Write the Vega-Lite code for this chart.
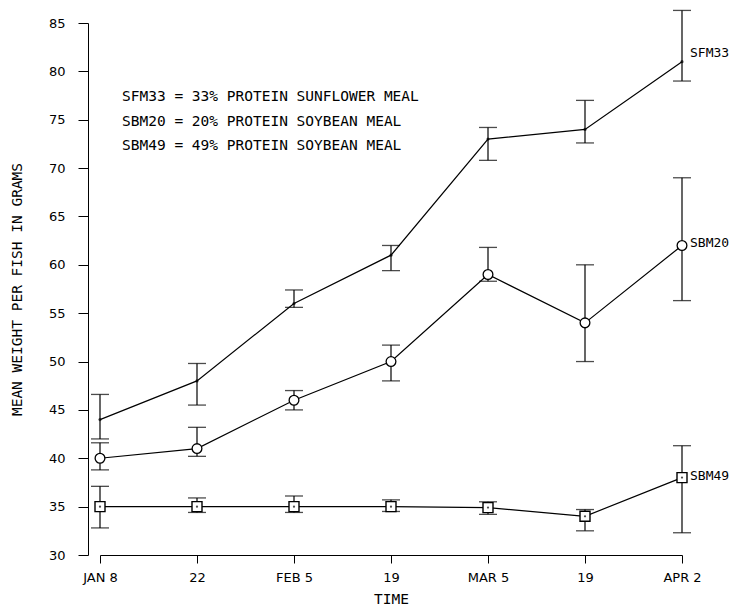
{
  "$schema": "https://vega.github.io/schema/vega-lite/v6.json",
  "autosize": "none",
  "width": 582,
  "height": 532,
  "padding": {"left": 100, "top": 23, "right": 56, "bottom": 54},
  "background": "white",
  "config": {
    "view": {"stroke": null},
    "font": "DejaVu Sans",
    "axis": {"domainColor": "black", "tickColor": "black", "labelColor": "black", "titleColor": "black", "grid": false, "labelFont": "DejaVu Sans", "titleFont": "DejaVu Sans Mono", "labelFontSize": 13, "titleFontWeight": "normal", "titleFontSize": 14.5}
  },
  "datasets": {
    "obs": [
      {"date": "Jan 8", "series": "SFM33", "mean": 44, "lo": 42, "hi": 46.6},
      {"date": "Jan 22", "series": "SFM33", "mean": 48, "lo": 45.5, "hi": 49.8},
      {"date": "Feb 5", "series": "SFM33", "mean": 56, "lo": 55.6, "hi": 57.4},
      {"date": "Feb 19", "series": "SFM33", "mean": 61, "lo": 59.4, "hi": 62},
      {"date": "Mar 5", "series": "SFM33", "mean": 73, "lo": 70.8, "hi": 74.2},
      {"date": "Mar 19", "series": "SFM33", "mean": 74, "lo": 72.6, "hi": 77},
      {"date": "Apr 2", "series": "SFM33", "mean": 81, "lo": 79, "hi": 86.3},
      {"date": "Jan 8", "series": "SBM20", "mean": 40, "lo": 38.8, "hi": 41.6},
      {"date": "Jan 22", "series": "SBM20", "mean": 41, "lo": 40.2, "hi": 43.2},
      {"date": "Feb 5", "series": "SBM20", "mean": 46, "lo": 45, "hi": 47},
      {"date": "Feb 19", "series": "SBM20", "mean": 50, "lo": 48, "hi": 51.7},
      {"date": "Mar 5", "series": "SBM20", "mean": 59, "lo": 58.3, "hi": 61.8},
      {"date": "Mar 19", "series": "SBM20", "mean": 54, "lo": 50, "hi": 60},
      {"date": "Apr 2", "series": "SBM20", "mean": 62, "lo": 56.3, "hi": 69},
      {"date": "Jan 8", "series": "SBM49", "mean": 35, "lo": 32.8, "hi": 37.1},
      {"date": "Jan 22", "series": "SBM49", "mean": 35, "lo": 34.4, "hi": 35.9},
      {"date": "Feb 5", "series": "SBM49", "mean": 35, "lo": 34.4, "hi": 36.1},
      {"date": "Feb 19", "series": "SBM49", "mean": 35, "lo": 34.5, "hi": 35.7},
      {"date": "Mar 5", "series": "SBM49", "mean": 34.9, "lo": 34.2, "hi": 35.5},
      {"date": "Mar 19", "series": "SBM49", "mean": 34, "lo": 32.5, "hi": 34.7},
      {"date": "Apr 2", "series": "SBM49", "mean": 38, "lo": 32.3, "hi": 41.3}
    ],
    "key": [
      {"date": "Jan 8", "y": 77.3, "text": "SFM33 = 33% PROTEIN SUNFLOWER MEAL"},
      {"date": "Jan 8", "y": 74.8, "text": "SBM20 = 20% PROTEIN SOYBEAN MEAL"},
      {"date": "Jan 8", "y": 72.3, "text": "SBM49 = 49% PROTEIN SOYBEAN MEAL"}
    ],
    "ends": [
      {"date": "Apr 2", "y": 81.9, "text": "SFM33"},
      {"date": "Apr 2", "y": 62.3, "text": "SBM20"},
      {"date": "Apr 2", "y": 38.2, "text": "SBM49"}
    ]
  },
  "encoding": {
    "x": {
      "field": "date", "type": "ordinal", "sort": null,
      "scale": {"type": "point", "padding": 0, "domain": ["Jan 8", "Jan 22", "Feb 5", "Feb 19", "Mar 5", "Mar 19", "Apr 2"]},
      "axis": {"title": "TIME", "labelAngle": 0, "tickSize": 8, "labelPadding": 8, "titlePadding": 8,
        "labelExpr": "indexof(['Jan 8','Feb 5','Mar 5','Apr 2'], datum.value) >= 0 ? upper(datum.value) : split(datum.value, ' ')[1]"}
    }
  },
  "layer": [
    {
      "data": {"name": "obs"},
      "mark": {"type": "rule", "color": "black", "strokeWidth": 1.2},
      "encoding": {
        "y": {"field": "lo", "type": "quantitative", "scale": {"domain": [30, 85], "nice": false, "zero": false},
          "axis": {"title": "MEAN WEIGHT PER FISH IN GRAMS", "values": [30, 35, 40, 45, 50, 55, 60, 65, 70, 75, 80, 85], "offset": 12, "tickSize": 10, "labelPadding": 13, "titlePadding": 24}},
        "y2": {"field": "hi"}
      }
    },
    {
      "data": {"name": "obs"},
      "mark": {"type": "tick", "color": "black", "size": 18, "thickness": 1.3},
      "encoding": {"y": {"field": "lo", "type": "quantitative"}}
    },
    {
      "data": {"name": "obs"},
      "mark": {"type": "tick", "color": "black", "size": 18, "thickness": 1.3},
      "encoding": {"y": {"field": "hi", "type": "quantitative"}}
    },
    {
      "data": {"name": "obs"},
      "mark": {"type": "line", "color": "black", "strokeWidth": 1.2},
      "encoding": {"y": {"field": "mean", "type": "quantitative"}, "detail": {"field": "series"}}
    },
    {
      "data": {"name": "obs"},
      "transform": [{"filter": "datum.series === 'SFM33'"}],
      "mark": {"type": "point", "shape": "circle", "filled": true, "color": "black", "size": 10},
      "encoding": {"y": {"field": "mean", "type": "quantitative"}}
    },
    {
      "data": {"name": "obs"},
      "transform": [{"filter": "datum.series === 'SBM20'"}],
      "mark": {"type": "point", "shape": "circle", "filled": false, "fill": "white", "fillOpacity": 1, "stroke": "black", "strokeWidth": 1.3, "size": 95},
      "encoding": {"y": {"field": "mean", "type": "quantitative"}}
    },
    {
      "data": {"name": "obs"},
      "transform": [{"filter": "datum.series === 'SBM49'"}],
      "mark": {"type": "point", "shape": "square", "filled": false, "fill": "white", "fillOpacity": 1, "stroke": "black", "strokeWidth": 1.4, "size": 100},
      "encoding": {"y": {"field": "mean", "type": "quantitative"}}
    },
    {
      "data": {"name": "obs"},
      "transform": [{"filter": "datum.series === 'SBM49'"}],
      "mark": {"type": "point", "shape": "circle", "filled": true, "color": "black", "size": 5},
      "encoding": {"y": {"field": "mean", "type": "quantitative"}}
    },
    {
      "data": {"name": "key"},
      "mark": {"type": "text", "align": "left", "baseline": "middle", "dx": 22, "font": "DejaVu Sans Mono", "fontSize": 14.5, "color": "black"},
      "encoding": {"y": {"field": "y", "type": "quantitative"}, "text": {"field": "text"}}
    },
    {
      "data": {"name": "ends"},
      "mark": {"type": "text", "align": "left", "baseline": "middle", "dx": 8, "font": "DejaVu Sans Mono", "fontSize": 13, "color": "black"},
      "encoding": {"y": {"field": "y", "type": "quantitative"}, "text": {"field": "text"}}
    }
  ]
}
